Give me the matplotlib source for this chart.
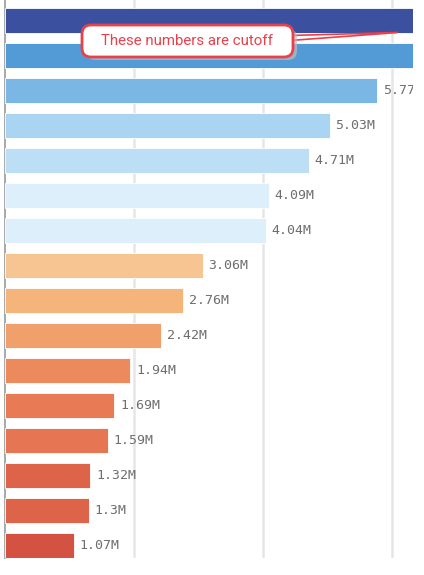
import matplotlib.pyplot as plt
from matplotlib.patches import FancyBboxPatch, Polygon
from matplotlib.transforms import Affine2D

# values in millions, top to bottom (top two run past the right edge, labels hidden)
values = [7.9, 6.6, 5.77, 5.03, 4.71, 4.09, 4.04, 3.06, 2.76, 2.42,
          1.94, 1.69, 1.59, 1.32, 1.30, 1.07]
labels = ["", "", "5.77M", "5.03M", "4.71M", "4.09M", "4.04M", "3.06M",
          "2.76M", "2.42M", "1.94M", "1.69M", "1.59M", "1.32M", "1.3M", "1.07M"]
colors = ["#3c50a0", "#539bd6", "#7ab7e4", "#a9d5f2", "#bcdff6", "#ddeffb",
          "#ddeffb", "#f6c592", "#f5b57a", "#f0a06b", "#ec895d", "#e87a55",
          "#e57553", "#dd6349", "#dd6349", "#d45241"]
grid_ticks = [2, 4, 6]

W, H = 424, 575
fig = plt.figure(figsize=(W / 100, H / 100), dpi=100)
ax = fig.add_axes([5 / W, 17 / H, 408 / W, 558 / H])

ypos = list(range(len(values)))
ax.barh(ypos, values, height=0.71, color=colors, edgecolor="white",
        linewidth=0.6, zorder=3)

for y, v, lab in zip(ypos, values, labels):
    if lab:
        ax.text(v + 0.09, y, lab, va="center", ha="left", fontsize=9.5,
                color="#6e6e6e", family="DejaVu Sans Mono", clip_on=True, zorder=4)

ax.set_xlim(0, 6.32)
ax.set_ylim(15.36, -0.586)
ax.set_xticks(grid_ticks)
ax.set_yticks([])
ax.tick_params(axis="x", length=0, labelbottom=False)
ax.grid(axis="x", color="#e6e6e6", linewidth=1.8, zorder=0)
for s in ["top", "right", "bottom"]:
    ax.spines[s].set_visible(False)
ax.spines["left"].set_color("#9a9a9a")
ax.spines["left"].set_linewidth(1.2)

# pixel transform, origin at top-left
pix = Affine2D().scale(1, -1).translate(0, H).scale(1 / 100) + fig.dpi_scale_trans

red = "#e8414a"
# callout pointer
tail = Polygon([(290, 35.5), (398, 32.5), (290, 40.5)], closed=True,
               facecolor="white", edgecolor=red, linewidth=1.2,
               transform=pix, zorder=9)
fig.add_artist(tail)
# shadow
shadow = FancyBboxPatch((86, 29), 211, 31, boxstyle="round,pad=0,rounding_size=9",
                        facecolor="#bdbdbd", edgecolor="none", alpha=0.7,
                        transform=pix, zorder=9)
fig.add_artist(shadow)
box = FancyBboxPatch((82, 25), 211, 32, boxstyle="round,pad=0,rounding_size=9",
                     facecolor="white", edgecolor=red, linewidth=2,
                     transform=pix, zorder=10)
fig.add_artist(box)
fig.text(187 / W, 1 - 41 / H, "These numbers are cutoff", color=red,
         fontsize=10.8, family="Roboto", ha="center", va="center", zorder=11)

fig.savefig("out.png", dpi=100)
